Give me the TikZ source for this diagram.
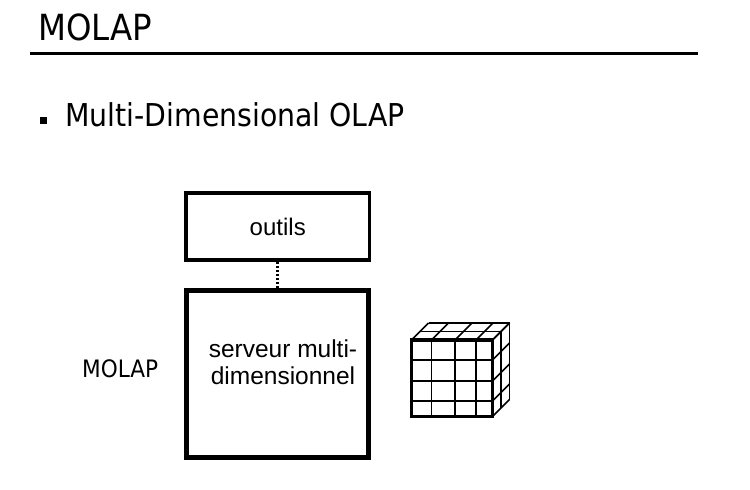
\documentclass[tikz,border=0pt]{standalone}
\usepackage{fontspec}
\setmainfont{Liberation Sans}
\newfontfamily\headfont{DejaVu Sans Condensed}
\usetikzlibrary{positioning}

\begin{document}
\begin{tikzpicture}[
  x=1pt, y=-1pt,
  head/.style={font=\headfont\fontsize{36}{40}\selectfont, inner sep=0pt, anchor=base west},
  bullet/.style={font=\headfont\fontsize{31.5}{36}\selectfont, inner sep=0pt, anchor=base west},
  side/.style={font=\headfont\fontsize{24}{27}\selectfont, inner sep=0pt, anchor=base west},
  box/.style={draw, inner sep=0pt, font=\fontsize{24}{27}\selectfont},
  cubeline/.style={line width=1.6pt},
  cubeedge/.style={line width=3.2pt}
]
\useasboundingbox (0,0) rectangle (750,490);

% title and rule
\node[head] (title) at (38,40) {MOLAP};
\draw[line width=3pt] (30,53) -- (698,53);

% bullet line
\node[fill, minimum size=7pt, inner sep=0pt] (dot) at (43,120) {};
\node[bullet] (multi) at (65,126) {Multi-Dimensional OLAP};

% boxes
\node[box, line width=3.5pt, minimum width=183.5pt, minimum height=67pt] (outils) at (277.75,226.5) {outils};
\node[box, line width=5pt, minimum width=182.5pt, minimum height=167pt] (serveur) at (277.25,374) {};
\node[font=\fontsize{24.5}{27}\selectfont, align=center, inner sep=0pt, anchor=base] (servtext) at (283,384) {serveur multi-\\dimensionnel};
\node[side] (molap) at (82,377) {MOLAP};

\draw[line width=3pt, dash pattern=on 2.2pt off 1.8pt] (outils.south) -- (outils.south |- serveur.north);

% cube
\foreach \x in {411.5,431.5,455,476,492.5}
  \draw[cubeline] (\x,340) -- ++(17,-17);
\draw[cubeline] (420,331.5) -- (501,331.5);
\draw[cubeline] (428.5,323) -- (509.5,323);
\foreach \y in {340,360,381,401,416.5}
  \draw[cubeline] (492.5,\y) -- ++(17,-17);
\draw[cubeline] (501,331.5) -- (501,408);
\draw[cubeline] (509.5,323) -- (509.5,399.5);
\foreach \x in {431.5,455,476}
  \draw[cubeline] (\x,340) -- (\x,416.5);
\foreach \y in {360,381,401}
  \draw[cubeline] (411.5,\y) -- (492.5,\y);
\draw[cubeedge] (411.5,340) rectangle (492.5,416.5);
\end{tikzpicture}
\end{document}
